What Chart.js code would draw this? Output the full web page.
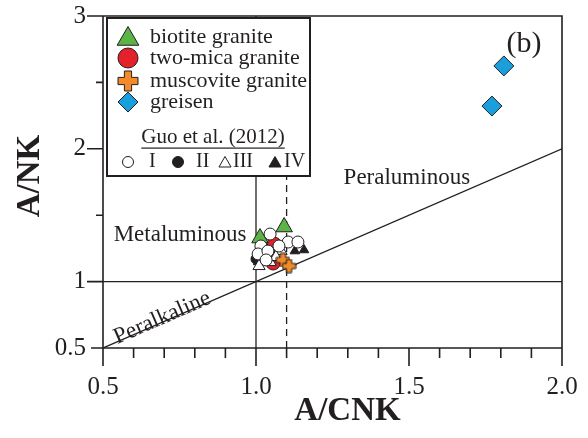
<!DOCTYPE html>
<html>
<head>
<meta charset="utf-8">
<script src="https://cdn.jsdelivr.net/npm/chart.js@4/dist/chart.umd.min.js"></script>
<style>
  html, body { margin: 0; padding: 0; background: #fff; }
  #wrap { width: 588px; height: 438px; }
</style>
</head>
<body>
<div id="wrap"><canvas id="c" width="588" height="438"></canvas></div>
<script>
// ---- axis ticks ----
const xTickLabels = ['0.5', '1.0', '1.5', '2.0'];
const yTickLabels = ['0.5', '1', '2', '3'];

// ---- samples (A/CNK, A/NK) ----
const biotiteX = [1.013, 1.092];
const biotiteY = [1.328, 1.411];

const twoMicaX = [1.059, 1.056];
const twoMicaY = [1.283, 1.140];

const muscoviteX = [1.088, 1.108];
const muscoviteY = [1.163, 1.117];

const greisenX = [1.810, 1.771];
const greisenY = [2.624, 2.322];

// Guo et al. (2012) groups
const guoIX = [1.046, 1.105, 1.137, 1.016, 1.075, 1.007, 1.039, 1.033];
const guoIY = [1.358, 1.298, 1.298, 1.268, 1.268, 1.208, 1.230, 1.163];

const guoIIX = [1.000, 1.052, 1.026];
const guoIIY = [1.170, 1.200, 1.253];

const guoIIIX = [1.082, 1.020, 1.046, 1.010, 1.065];
const guoIIIY = [1.230, 1.193, 1.148, 1.117, 1.185];

const guoIVX = [1.127, 1.157, 1.007];
const guoIVY = [1.230, 1.238, 1.148];

// ---- field boundaries ----
const boundaryACNK = [1.0, 1.1];   // vertical lines (solid, dashed)
const boundaryANK = 1.0;           // horizontal line
const equalityLine = [0.5, 2.0];   // A/NK = A/CNK

const INK = '#231f20';
const SERIF = "'Liberation Serif', 'Times New Roman', serif";
const COLORS = { green: '#5cb446', red: '#e4212a', orange: '#f28a27', blue: '#1a9fdc' };

const pts = (xv, yv) => xv.map((x, i) => ({ x: x, y: yv[i] }));

// filled plus sign used for the muscovite granite symbol
function plusPath(ctx, x, y, h, t) {
  ctx.beginPath();
  ctx.moveTo(x - t, y - h); ctx.lineTo(x + t, y - h); ctx.lineTo(x + t, y - t);
  ctx.lineTo(x + h, y - t); ctx.lineTo(x + h, y + t); ctx.lineTo(x + t, y + t);
  ctx.lineTo(x + t, y + h); ctx.lineTo(x - t, y + h); ctx.lineTo(x - t, y + t);
  ctx.lineTo(x - h, y + t); ctx.lineTo(x - h, y - t); ctx.lineTo(x - t, y - t);
  ctx.closePath();
}
function plusImage(size, thick) {
  const cv = document.createElement('canvas');
  cv.width = size + 2; cv.height = size + 2;
  const g = cv.getContext('2d');
  plusPath(g, cv.width / 2, cv.height / 2, size / 2, thick);
  g.fillStyle = COLORS.orange; g.fill();
  g.lineWidth = 1; g.strokeStyle = INK; g.stroke();
  return cv;
}
const plusSmall = plusImage(13, 2.6);

function refLine(data, dash) {
  return {
    type: 'scatter', data: data, showLine: true, pointRadius: 0,
    borderColor: INK, borderWidth: 1.3, borderDash: dash || [], order: 20
  };
}
function marker(data, style, radius, fill, stroke, order) {
  return {
    type: 'scatter', data: data, pointStyle: style, pointRadius: radius,
    pointBackgroundColor: fill, pointBorderColor: stroke, pointBorderWidth: 1,
    order: order
  };
}

const datasets = [
  refLine([{ x: boundaryACNK[0], y: 0.5 }, { x: boundaryACNK[0], y: 3 }]),
  refLine([{ x: boundaryACNK[1], y: 0.5 }, { x: boundaryACNK[1], y: 3 }], [7, 5]),
  refLine([{ x: 0.5, y: boundaryANK }, { x: 2.0, y: boundaryANK }]),
  refLine([{ x: equalityLine[0], y: equalityLine[0] }, { x: equalityLine[1], y: equalityLine[1] }]),
  marker(pts(twoMicaX, twoMicaY), 'circle', 7, COLORS.red, INK, 9),
  marker(pts(biotiteX, biotiteY), 'triangle', 9.5, COLORS.green, INK, 8),
  marker(pts(guoIIX, guoIIY), 'circle', 5, INK, INK, 7),
  marker(pts(guoIVX, guoIVY), 'triangle', 5.5, INK, INK, 7),
  marker(pts(guoIIIX, guoIIIY), 'triangle', 7, '#ffffff', INK, 6),
  marker(pts(guoIX, guoIY), 'circle', 6, '#ffffff', INK, 5),
  marker(pts(muscoviteX, muscoviteY), plusSmall, 7, COLORS.orange, INK, 3),
  marker(pts(greisenX, greisenY), 'rectRot', 10, COLORS.blue, INK, 2)
];

const near = (a, b) => Math.abs(a - b) < 1e-6;
const xMajor = xTickLabels.map(Number);
const yMajor = yTickLabels.map(Number);

// tick mark lengths: long at labelled values, short in between
const xTickLen = v => (xMajor.some(m => near(m, v)) ? 18 : 10);
const yTickLen = v => {
  if (near(v, Math.round(v))) return 16;
  if (yMajor.some(m => near(m, v))) return 12;
  return 7;
};

// frame, tick marks, axis titles, field names
const decorations = {
  id: 'decorations',
  afterDraw(chart) {
    const ctx = chart.ctx, a = chart.chartArea;
    const sx = chart.scales.x, sy = chart.scales.y;
    ctx.save();
    ctx.setLineDash([]);
    ctx.strokeStyle = INK;
    ctx.lineWidth = 1.6;
    ctx.beginPath();
    ctx.moveTo(a.left, a.top); ctx.lineTo(a.right, a.top); ctx.lineTo(a.right, a.bottom);
    ctx.lineTo(a.left, a.bottom); ctx.closePath();
    for (const t of sx.ticks) {
      const px = sx.getPixelForValue(t.value);
      ctx.moveTo(px, a.bottom);
      ctx.lineTo(px, a.bottom + xTickLen(t.value));
    }
    for (const t of sy.ticks) {
      const py = sy.getPixelForValue(t.value);
      ctx.moveTo(a.left - yTickLen(t.value), py);
      ctx.lineTo(a.left, py);
    }
    ctx.stroke();

    // axis titles
    ctx.fillStyle = INK;
    ctx.font = 'bold 33px ' + SERIF;
    ctx.textAlign = 'center';
    ctx.textBaseline = 'middle';
    ctx.fillText('A/CNK', (a.left + a.right) / 2 + 15, 411);
    ctx.save();
    ctx.translate(30, (a.top + a.bottom) / 2 - 6);
    ctx.rotate(-Math.PI / 2);
    ctx.fillText('A/NK', 0, 0);
    ctx.restore();

    // field names
    ctx.font = '23px ' + SERIF;
    ctx.fillText('Peraluminous', sx.getPixelForValue(1.493), sy.getPixelForValue(1.78));
    ctx.fillText('Metaluminous', sx.getPixelForValue(0.752), sy.getPixelForValue(1.351));
    const p0x = sx.getPixelForValue(0.5), p0y = sy.getPixelForValue(0.5);
    const p1x = sx.getPixelForValue(2.0), p1y = sy.getPixelForValue(2.0);
    ctx.save();
    ctx.translate(sx.getPixelForValue(0.694), sy.getPixelForValue(0.727));
    ctx.rotate(Math.atan2(p1y - p0y, p1x - p0x));
    ctx.fillText('Peralkaline', 0, 0);
    ctx.restore();
    ctx.font = '30px ' + SERIF;
    ctx.fillText('(b)', sx.getPixelForValue(1.876), sy.getPixelForValue(2.79));
    ctx.restore();
  }
};

function tri(ctx, x, y, r) {
  ctx.beginPath();
  ctx.moveTo(x, y - r);
  ctx.lineTo(x + r * Math.sin(2 * Math.PI / 3), y - r * Math.cos(2 * Math.PI / 3));
  ctx.lineTo(x + r * Math.sin(4 * Math.PI / 3), y - r * Math.cos(4 * Math.PI / 3));
  ctx.closePath();
}
function circ(ctx, x, y, r) { ctx.beginPath(); ctx.arc(x, y, r, 0, Math.PI * 2); }
function diamond(ctx, x, y, r) {
  ctx.beginPath();
  ctx.moveTo(x - r, y); ctx.lineTo(x, y - r); ctx.lineTo(x + r, y); ctx.lineTo(x, y + r);
  ctx.closePath();
}
function paint(ctx, fill) {
  ctx.fillStyle = fill; ctx.fill();
  ctx.strokeStyle = INK; ctx.lineWidth = 1; ctx.stroke();
}

const legendBox = {
  id: 'legendBox',
  afterDraw(chart) {
    const ctx = chart.ctx, a = chart.chartArea;
    const L = a.left + 4, T = a.top + 2, W = 203, H = 158;
    ctx.save();
    ctx.setLineDash([]);
    ctx.fillStyle = '#fff';
    ctx.fillRect(L, T, W, H);
    ctx.strokeStyle = INK; ctx.lineWidth = 2;
    ctx.strokeRect(L, T, W, H);

    const mx = L + 21, tx = L + 43;
    const rows = [T + 19, T + 40, T + 63, T + 84];
    tri(ctx, mx, rows[0] + 2, 12.5); paint(ctx, COLORS.green);
    circ(ctx, mx, rows[1], 10); paint(ctx, COLORS.red);
    plusPath(ctx, mx, rows[2], 10, 3.6); paint(ctx, COLORS.orange);
    diamond(ctx, mx, rows[3], 10); paint(ctx, COLORS.blue);

    ctx.fillStyle = INK;
    ctx.font = '22px ' + SERIF;
    ctx.textAlign = 'left'; ctx.textBaseline = 'middle';
    ['biotite granite', 'two-mica granite', 'muscovite granite', 'greisen']
      .forEach((s, i) => ctx.fillText(s, tx, rows[i]));

    // Guo et al. (2012) sub-legend
    ctx.font = '21px ' + SERIF;
    ctx.textAlign = 'center';
    const gx = L + 106, gy = T + 119;
    ctx.fillText('Guo et al. (2012)', gx, gy);
    const gw = ctx.measureText('Guo et al. (2012)').width;
    ctx.fillRect(gx - gw / 2, gy + 10.5, gw, 1.2);

    const ry = T + 144;
    ctx.font = '20px ' + SERIF;
    ctx.textAlign = 'left';
    circ(ctx, L + 21, ry, 5.5); paint(ctx, '#fff');
    ctx.fillStyle = INK; ctx.fillText('I', L + 42, ry);
    circ(ctx, L + 71, ry, 5.5); paint(ctx, INK);
    ctx.fillStyle = INK; ctx.fillText('II', L + 89, ry);
    tri(ctx, L + 118, ry + 1.5, 7); paint(ctx, '#fff');
    ctx.fillStyle = INK; ctx.fillText('III', L + 126, ry);
    tri(ctx, L + 168, ry + 1.5, 7); paint(ctx, INK);
    ctx.fillStyle = INK; ctx.fillText('IV', L + 177, ry);
    ctx.restore();
  }
};

// fixed axis box sizes, no extra label overflow padding
function fixPadding(s) {
  s.paddingLeft = 0; s.paddingRight = 0; s.paddingTop = 0; s.paddingBottom = 0;
}

new Chart(document.getElementById('c'), {
  type: 'scatter',
  data: { datasets: datasets },
  options: {
    responsive: false,
    animation: false,
    layout: { padding: { top: 16, right: 26, left: 0, bottom: 0 } },
    plugins: { legend: { display: false }, tooltip: { enabled: false } },
    scales: {
      x: {
        type: 'linear', min: 0.5, max: 2.0,
        grid: { display: false, drawTicks: false }, border: { display: false },
        ticks: {
          stepSize: 0.1, autoSkip: false, maxRotation: 0, padding: 24,
          color: INK, font: { family: SERIF, size: 25 },
          callback: v => {
            const i = xMajor.findIndex(m => near(m, v));
            return i >= 0 ? xTickLabels[i] : '';
          }
        },
        afterFit: s => { s.height = 90; fixPadding(s); }
      },
      y: {
        type: 'linear', min: 0.5, max: 3,
        grid: { display: false, drawTicks: false }, border: { display: false },
        ticks: {
          stepSize: 0.5, autoSkip: false, padding: 17,
          color: INK, font: { family: SERIF, size: 25 },
          callback: v => {
            const i = yMajor.findIndex(m => near(m, v));
            return i >= 0 ? yTickLabels[i] : '';
          }
        },
        afterFit: s => { s.width = 103; fixPadding(s); }
      }
    }
  },
  plugins: [decorations, legendBox]
});
</script>
</body>
</html>
